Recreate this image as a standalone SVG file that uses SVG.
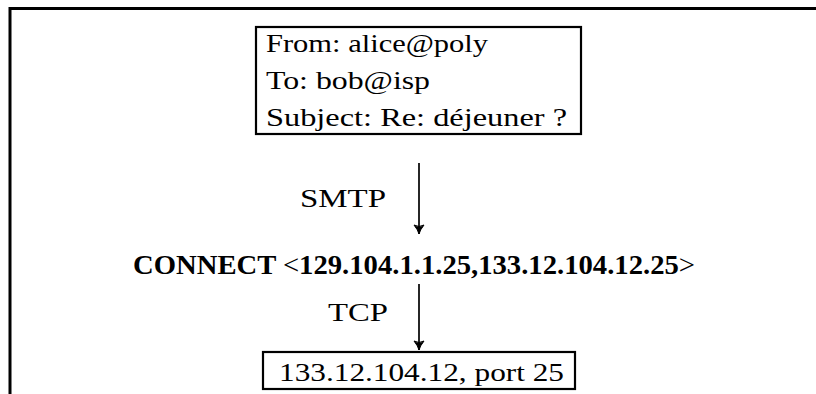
<svg xmlns="http://www.w3.org/2000/svg" width="816" height="394" viewBox="0 0 816 394">
<style>
  .frame{fill:none;stroke:#000;stroke-width:3}
  .box{fill:#fff;stroke:#000;stroke-width:2.2}
  .t{font-family:"Liberation Serif","Times New Roman",serif;font-size:26px;fill:#000}
  .b{font-weight:bold;font-size:27px}
  .n{font-weight:normal}
  .edge{fill:none;stroke:#000;stroke-width:1.7}
</style>
<defs>
  <marker id="ah" markerWidth="12" markerHeight="14" refX="10" refY="7" orient="auto" markerUnits="userSpaceOnUse">
    <path d="M1,2 Q6,6 10,7 Q6,8 1,12 Q4,7 1,2 Z" fill="#000" stroke="#000" stroke-width="1"/>
  </marker>
</defs>
<rect width="816" height="394" fill="#fff"/>
<g id="frame">
  <path class="frame" d="M10,394 V8.5 H816"/>
</g>
<g id="message">
  <rect class="box" x="256" y="27" width="325" height="107"/>
  <text class="t" x="266" y="52" textLength="222" lengthAdjust="spacingAndGlyphs">From: alice@poly</text>
  <text class="t" x="266" y="89" textLength="164" lengthAdjust="spacingAndGlyphs">To: bob@isp</text>
  <text class="t" x="266" y="126" textLength="301" lengthAdjust="spacingAndGlyphs">Subject: Re: déjeuner ?</text>
</g>
<g id="connect">
  <text class="t b" x="133" y="274" textLength="562" lengthAdjust="spacingAndGlyphs">CONNECT <tspan class="n">&lt;</tspan>129.104.1.1.25,133.12.104.12.25<tspan class="n">&gt;</tspan></text>
</g>
<g id="dest">
  <rect class="box" x="263" y="352" width="312" height="37"/>
  <text class="t" x="279" y="381" textLength="285" lengthAdjust="spacingAndGlyphs">133.12.104.12, port 25</text>
</g>
<g id="connectors">
  <line class="edge" x1="419" y1="163" x2="419" y2="234" marker-end="url(#ah)"/>
  <line class="edge" x1="419" y1="284" x2="419" y2="350" marker-end="url(#ah)"/>
  <text class="t" x="300" y="207" textLength="86" lengthAdjust="spacingAndGlyphs">SMTP</text>
  <text class="t" x="328" y="321" textLength="60" lengthAdjust="spacingAndGlyphs">TCP</text>
</g>
</svg>
